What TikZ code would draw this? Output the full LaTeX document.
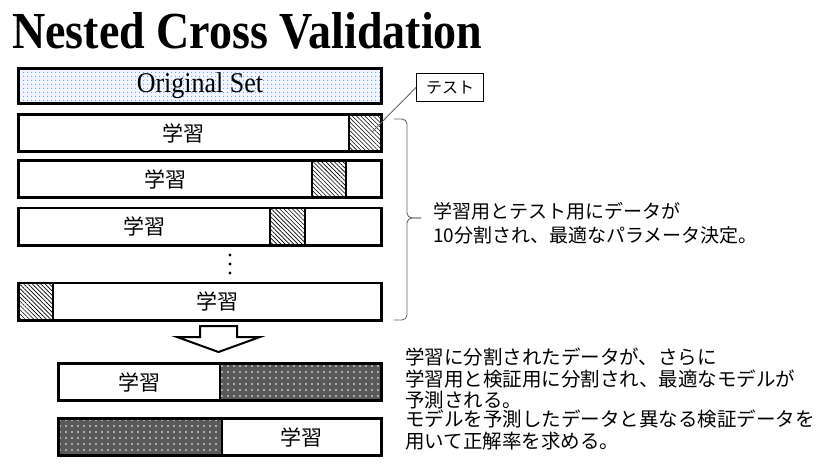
\documentclass[tikz,border=0pt]{standalone}
\usepackage{fontspec}
\setmainfont{Liberation Serif}
\newfontfamily\jp{Noto Sans CJK JP}
\usetikzlibrary{patterns.meta}
\begin{document}
\begin{tikzpicture}[x=1pt,y=-1pt,
  seg/.style={draw, line width=2.7pt, inner sep=0pt, outer sep=0pt, anchor=west,
    minimum height=37.3pt, font=\jp\fontsize{21}{21}\selectfont},
  hatch/.style={pattern={Lines[angle=-45,distance=3pt,line width=0.6pt]}, pattern color=black},
  dark/.style={preaction={fill=black!65}, pattern={Dots[distance=6pt,radius=0.9pt]}, pattern color=white},
  orig/.style={preaction={fill=blue!4}, pattern={Dots[distance=4pt,radius=0.75pt]}, pattern color=blue!50!cyan!70},
  note/.style={font=\jp\fontsize{19}{24}\selectfont, align=left, inner sep=0pt, anchor=north west},
  thin/.style={draw=black!60, line width=0.9pt}
]
\useasboundingbox (0,0) rectangle (817,468);

\node[anchor=base west, inner sep=0pt, font=\bfseries\fontsize{46}{46}\selectfont] (title) at (12,49) {\scalebox{1}[1.13]{Nested Cross Validation}};

\node[seg, orig, minimum width=363pt, minimum height=35pt, font=\fontsize{26}{26}\selectfont] (orig) at (18.5,86) {\scalebox{1}[1.1]{Original Set}};

% row 1
\node[seg, minimum width=330.5pt] (r1a) at (18.5,133) {学習};
\node[seg, hatch, minimum width=32.5pt] (r1b) at (349,133) {};
% row 2
\node[seg, minimum width=293.5pt] (r2a) at (18.5,179) {学習};
\node[seg, hatch, minimum width=34pt] (r2b) at (312,179) {};
\node[seg, minimum width=35.5pt] (r2c) at (346,179) {};
% row 3
\node[seg, minimum width=251.5pt] (r3a) at (18.5,226.5) {学習};
\node[seg, hatch, minimum width=35pt] (r3b) at (270,226.5) {};
\node[seg, minimum width=76.5pt] (r3c) at (305,226.5) {};
% dots
\fill (230,255) circle (1.6) (230,264) circle (1.6) (230,273) circle (1.6);
% last row
\node[seg, hatch, minimum width=34.5pt] (r4a) at (18.5,301.5) {};
\node[seg, minimum width=328.5pt] (r4b) at (53,301.5) {学習};

% test label
\node[draw, line width=0.9pt, minimum width=67pt, minimum height=28pt, inner sep=0pt,
  font=\jp\fontsize{16}{16}\selectfont] (test) at (450,87.5) {テスト};
\coordinate (tend) at (372,132);
\draw[thin] (test.west) -- (tend);

% brace
\coordinate (bt) at (394,119);
\coordinate (bm) at (421,218);
\coordinate (bb) at (394,320);
\draw[thin, rounded corners=5pt] (bt) -- (407,119) -- (407,218) -- (bm);
\draw[thin, rounded corners=5pt] (bm) -- (407,218) -- (407,320) -- (bb);

\node[note] (n1) at (433,202) {学習用とテスト用にデータが\\10分割され、最適なパラメータ決定。};

% arrow
\draw[line width=2pt, fill=white, line join=miter]
  (200,326) -- (237,326) -- (237,337) -- (260,337) -- (218.5,352) -- (177,337) -- (200,337) -- cycle;

% bottom rows
\node[seg, minimum width=161.5pt] (b1a) at (58.5,382) {学習};
\node[seg, dark, minimum width=161.5pt] (b1b) at (220,382) {};
\node[seg, dark, minimum width=163.5pt] (b2a) at (58.5,437) {};
\node[seg, minimum width=159.5pt] (b2b) at (222,437) {学習};

\node[note, font=\jp\fontsize{19.5}{21.5}\selectfont] (n2) at (405,348) {学習に分割されたデータが、さらに\\学習用と検証用に分割され、最適なモデルが\\予測される。};
\node[note, font=\jp\fontsize{19.5}{22}\selectfont] (n3) at (405,410) {モデルを予測したデータと異なる検証データを\\用いて正解率を求める。};
\end{tikzpicture}
\end{document}
